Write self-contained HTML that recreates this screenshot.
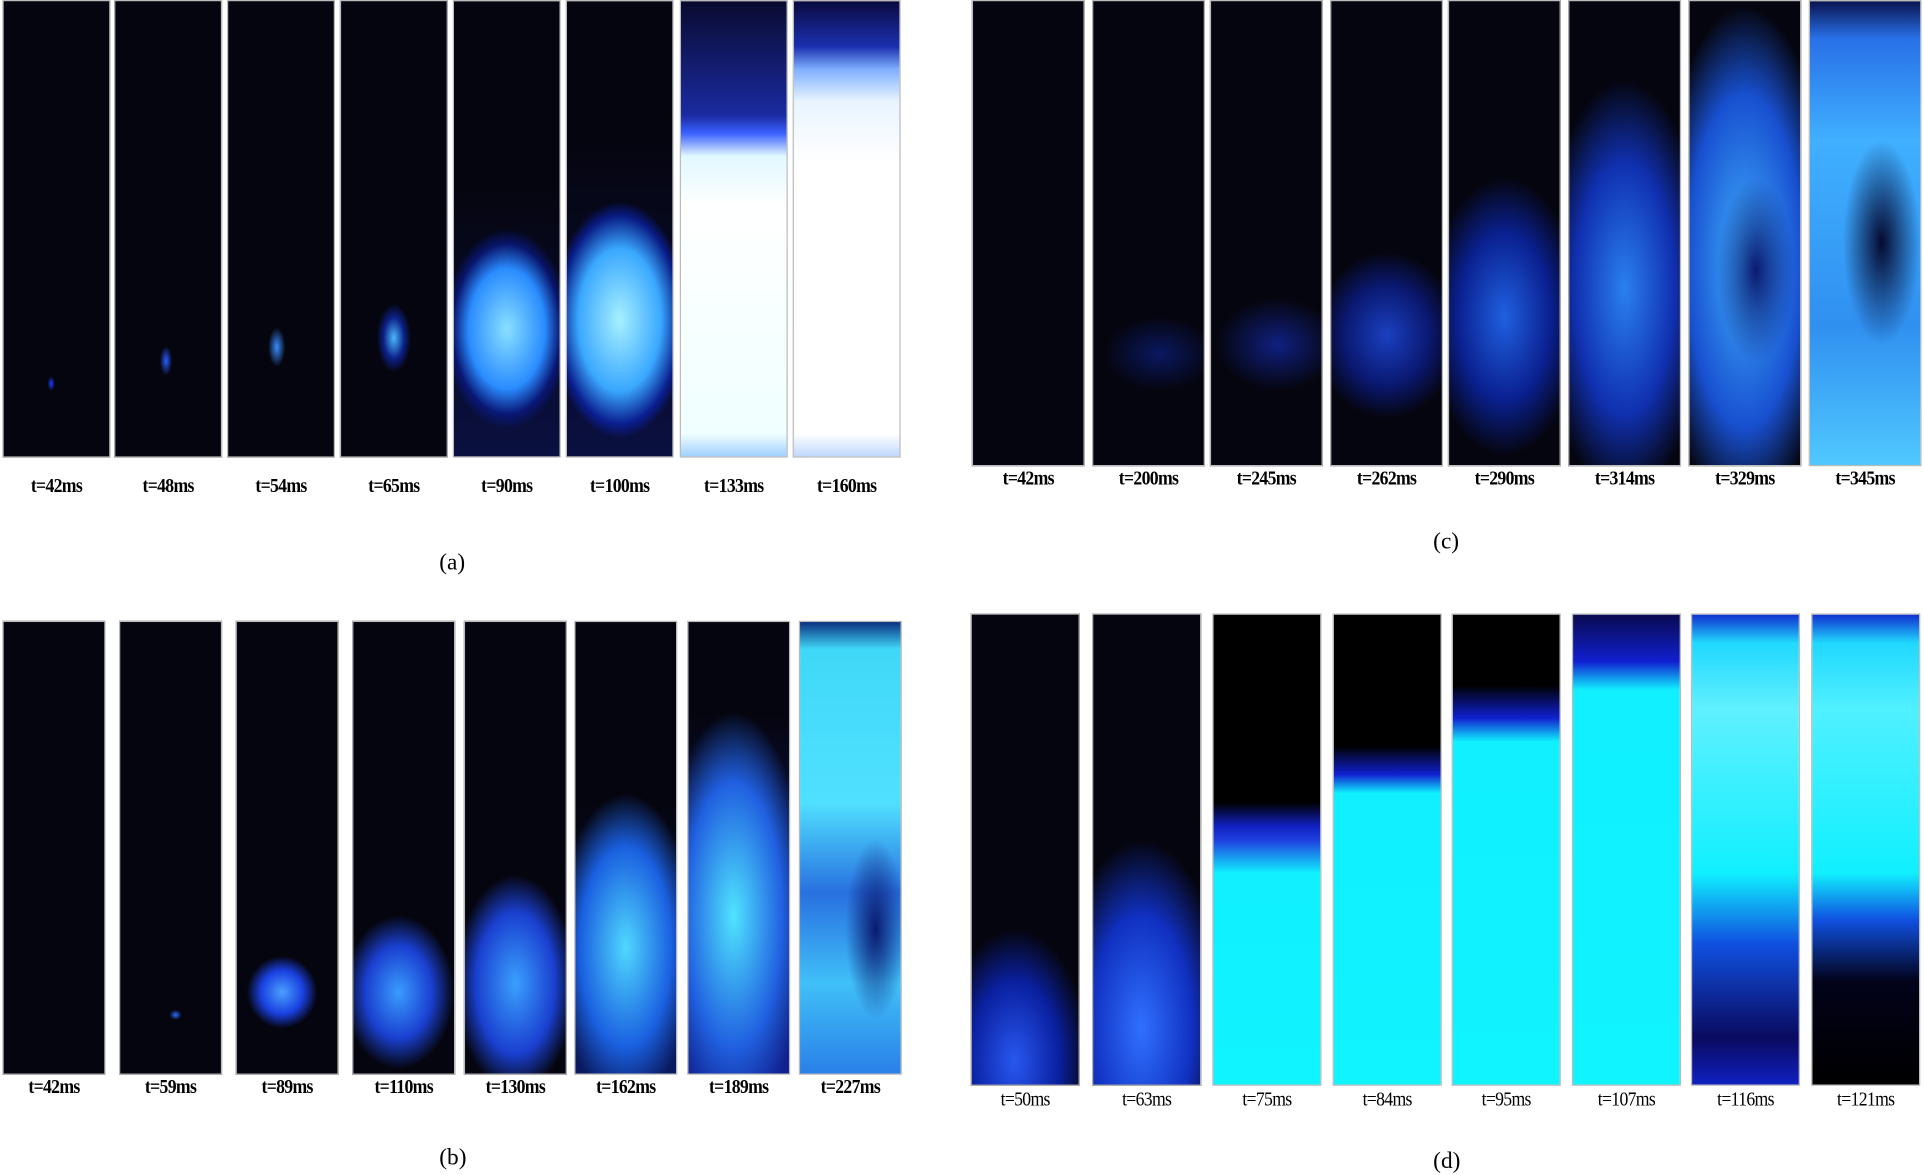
<!DOCTYPE html>
<html><head><meta charset="utf-8">
<style>
html,body{margin:0;padding:0;background:#fff;width:1924px;height:1168px;overflow:hidden}
#stage{position:absolute;left:0;top:0;width:1568px;height:952px;transform:scale(1.22704,1.22689);transform-origin:0 0}
.fr{position:absolute;background:#05050f;box-sizing:border-box;border:1px solid #bbb;overflow:hidden}
.lb{position:absolute;font-family:"Liberation Serif",serif;font-size:16px;font-weight:bold;text-align:center;color:#000;letter-spacing:-0.6px;transform:scaleX(0.9)}
.pl{position:absolute;font-family:"Liberation Serif",serif;font-size:19px;color:#000}
</style></head><body>
<div id="stage"></div>
<script>
const panelNames=['a','b','c','d'];
const labelsA=['t=42ms','t=48ms','t=54ms','t=65ms','t=90ms','t=100ms','t=133ms','t=160ms'];
const labelsB=['t=42ms','t=59ms','t=89ms','t=110ms','t=130ms','t=162ms','t=189ms','t=227ms'];
const labelsC=['t=42ms','t=200ms','t=245ms','t=262ms','t=290ms','t=314ms','t=329ms','t=345ms'];
const labelsD=['t=50ms','t=63ms','t=75ms','t=84ms','t=95ms','t=107ms','t=116ms','t=121ms'];
const K='#05050f';
const bgA=[
 `radial-gradient(ellipse 3px 6px at 45% 84%,#1a3cff,transparent),${K}`,
 `radial-gradient(ellipse 5px 12px at 48% 79%,#2a5cff,transparent),${K}`,
 `radial-gradient(ellipse 7px 16px at 46% 76%,#3a8cff,transparent),${K}`,
 `radial-gradient(ellipse 14px 28px at 50% 74%,#4ab8ff,rgba(20,60,255,.5) 60%,transparent),${K}`,
 `radial-gradient(ellipse 60% 22% at 50% 72%,#8ae0ff,#2a8cff 60%,rgba(10,30,160,.6) 85%,transparent),linear-gradient(#05050f 40%,#0a1040 100%)`,
 `radial-gradient(ellipse 65% 26% at 50% 70%,#a8f0ff,#3aa8ff 60%,rgba(10,40,200,.6) 88%,transparent),linear-gradient(#05050f 30%,#0a1040 100%)`,
 `linear-gradient(#0a0a30,#1a2aa0 25%,#3a60ff 29%,#e0f8ff 34%,#fff 45%,#f0ffff 95%,#a0d0ff)`,
 `linear-gradient(#0a0a40,#1a30b0 10%,#80b0ff 15%,#e8f4ff 22%,#fff 35%,#fff 95%,#c0d8ff)`];
const bgB=[K,
 `radial-gradient(ellipse 5px 4px at 55% 87%,#2a6cff,transparent),${K}`,
 `radial-gradient(ellipse 35% 8% at 45% 82%,#4aa0ff,#1a40e0 60%,transparent),${K}`,
 `radial-gradient(ellipse 55% 17% at 45% 82%,#3a9cff,#1a40d0 60%,transparent),${K}`,
 `radial-gradient(ellipse 60% 24% at 50% 80%,#3aa0ff,#1a40d0 65%,transparent),${K}`,
 `radial-gradient(ellipse 70% 34% at 50% 72%,#50d8ff,#1a60e0 65%,transparent),linear-gradient(#05050f 40%,#0a1a60)`,
 `radial-gradient(ellipse 75% 45% at 45% 65%,#50e4ff,#2060e0 65%,transparent),linear-gradient(#05050f 20%,#102090)`,
 `radial-gradient(ellipse 30% 20% at 75% 68%,#0a1a70,transparent),linear-gradient(#0a3080,#40d8f8 6%,#50e0ff 40%,#2870e0 60%,#40c0f8 80%,#2a80e8)`];
const bgC=[K,
 `radial-gradient(ellipse 50% 8% at 60% 76%,#0a1860,transparent),${K}`,
 `radial-gradient(ellipse 55% 10% at 60% 74%,#102080,transparent),${K}`,
 `radial-gradient(ellipse 65% 18% at 50% 72%,#1a40c0,#0a1870 60%,transparent),${K}`,
 `radial-gradient(ellipse 70% 30% at 50% 68%,#2060e0,#0a2090 60%,transparent),${K}`,
 `radial-gradient(ellipse 75% 45% at 50% 62%,#2a80f0,#1030b0 60%,transparent),${K}`,
 `radial-gradient(ellipse 35% 20% at 60% 58%,#0a1a70,transparent),radial-gradient(ellipse 80% 55% at 50% 56%,#40b0ff,#1850d0 65%,transparent),${K}`,
 `radial-gradient(ellipse 35% 22% at 65% 52%,#050a30,transparent),linear-gradient(#0a1450,#2870e8 8%,#40b0ff 30%,#3090f0 70%,#50c8ff)`];
const bgD=[
 `radial-gradient(ellipse 70% 28% at 40% 95%,#2858f0,#0a20a0 60%,transparent),${K}`,
 `radial-gradient(ellipse 80% 40% at 45% 88%,#3070ff,#1030c0 60%,transparent),${K}`,
 `linear-gradient(#000 40%,#1020c0 45%,#2040e0 48%,#10f0ff 55%,#10f4ff)`,
 `linear-gradient(#000 28%,#1020d0 34%,#10f0ff 38%,#10f4ff)`,
 `linear-gradient(#000 15%,#1020d0 22%,#10f0ff 27%,#10f4ff)`,
 `linear-gradient(#0a0a50,#1020d0 10%,#10f0ff 16%,#10f4ff)`,
 `linear-gradient(#1030d0,#20d8ff 6%,#60f0ff 20%,#10f0ff 55%,#1050e0 70%,#0a0a60 90%,#1020c0)`,
 `linear-gradient(#1030d0,#20d8ff 6%,#50f0ff 20%,#10f0ff 55%,#1050e0 65%,#02021a 78%,#000)`];
const panels=[
 {labels:labelsA,bgs:bgA,xs:[2,93,185,277,369,461,554,646],w:88,top:0,bot:373,ly:398,bold:true,px:370,py:460},
 {labels:labelsB,bgs:bgB,xs:[2,97,192,287,378,468,560,651],w:84,top:506,bot:876,ly:888,bold:true,px:370,py:945},
 {labels:labelsC,bgs:bgC,xs:[792,890,986,1084,1180,1278,1376,1474],w:92,top:0,bot:380,ly:392,bold:true,px:1180,py:443},
 {labels:labelsD,bgs:bgD,xs:[791,890,988,1086,1183,1281,1378,1476],w:89,top:500,bot:885,ly:898,bold:false,px:1180,py:948}];
const st=document.getElementById('stage');
panels.forEach((p,pi)=>{
 p.labels.forEach((t,i)=>{
  const f=document.createElement('div');f.className='fr';
  
  
  f.style.left=p.xs[i]+'px';f.style.top=p.top+'px';f.style.width=p.w+'px';f.style.height=(p.bot-p.top)+'px';
  f.style.background=p.bgs[i];st.appendChild(f);
  const l=document.createElement('div');l.className='lb';
  
  
  l.style.left=(p.xs[i]-10)+'px';l.style.width=(p.w+20)+'px';l.style.top=(p.ly-10)+'px';
  if(!p.bold)l.style.fontWeight='normal';
  l.textContent=t;st.appendChild(l);
 });
 const c=document.createElement('div');c.className='pl';
 
 
 c.style.left=(p.px-12)+'px';c.style.top=(p.py-12)+'px';
 c.textContent='('+panelNames[pi]+')';st.appendChild(c);
});
</script>
</body></html>
